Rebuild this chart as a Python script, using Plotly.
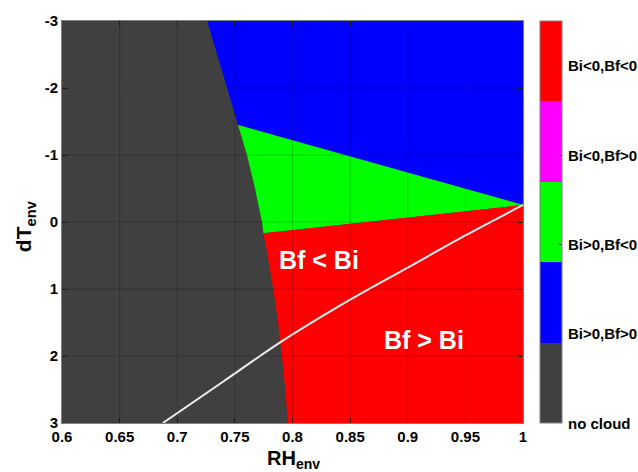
import plotly.graph_objects as go

# Regime boundary between "no cloud" and cloudy states: RH_env at given dT_env
boundary_dT = [-3.0, -2.5, -2.0, -1.448, -1.0, -0.5, 0.0, 0.169, 0.5, 1.0,
               1.5, 2.0, 2.5, 3.0]
boundary_rh = [0.726, 0.7345, 0.743, 0.7528, 0.7605, 0.7675, 0.7735, 0.7748,
               0.7785, 0.7833, 0.7875, 0.7908, 0.7938, 0.796]

# Point where the blue/green and green/red borders meet on the RH = 1 edge
apex_rh, apex_dT = 1.0, -0.254

# Bf = Bi line
eq_rh = [0.6875, 0.74, 0.789, 0.85, 0.90, 0.95, 1.0]
eq_dT = [3.0, 2.38, 1.80, 1.16, 0.68, 0.20, -0.254]

# Region labels (category codes 0..4) and colours
class_codes = [0, 1, 2, 3, 4]
class_names = ["no cloud", "Bi>0,Bf>0", "Bi>0,Bf<0", "Bi<0,Bf>0", "Bi<0,Bf<0"]
class_colors = ["#404040", "#0000ff", "#00ff00", "#ff00ff", "#ff0000"]
cbar_max = 4.5

x_ticks = [0.6, 0.65, 0.7, 0.75, 0.8, 0.85, 0.9, 0.95, 1.0]
x_ticktext = ["0.6", "0.65", "0.7", "0.75", "0.8", "0.85", "0.9", "0.95", "1"]
y_ticks = [-3, -2, -1, 0, 1, 2, 3]
y_ticktext = ["-3", "-2", "-1", "0", "1", "2", "3"]

FONT = "Arial, Liberation Sans, sans-serif"
XMIN, XMAX, YMIN, YMAX = 0.6, 1.0, -3.0, 3.0

# indices into the boundary arrays
i_green_top = boundary_dT.index(-1.448)
i_green_bot = boundary_dT.index(0.169)

fig = go.Figure()


def region(xs, ys, color):
    fig.add_trace(go.Scatter(x=xs, y=ys, fill="toself", fillcolor=color,
                             mode="lines", line=dict(width=0, color=color),
                             hoverinfo="skip", showlegend=False))


# no cloud
region([XMIN] + boundary_rh + [XMIN],
       [YMIN] + boundary_dT + [YMAX], class_colors[0])
# Bi>0, Bf>0
region(boundary_rh[:i_green_top + 1] + [apex_rh, XMAX],
       boundary_dT[:i_green_top + 1] + [apex_dT, YMIN], class_colors[1])
# Bi>0, Bf<0
region(boundary_rh[i_green_top:i_green_bot + 1] + [apex_rh],
       boundary_dT[i_green_top:i_green_bot + 1] + [apex_dT], class_colors[2])
# Bi<0, Bf<0
region(boundary_rh[i_green_bot:] + [XMAX, apex_rh],
       boundary_dT[i_green_bot:] + [YMAX, apex_dT], class_colors[4])

# Bf = Bi line
fig.add_trace(go.Scatter(x=eq_rh, y=eq_dT, mode="lines",
                         line=dict(color="#eeeeee", width=2, shape="spline",
                                   smoothing=0.8),
                         hoverinfo="skip", showlegend=False))

# discrete colour bar (labels added as annotations beside it)
n = len(class_colors)
cscale = []
for k, c in enumerate(class_colors):
    cscale.append([k / n, c])
    cscale.append([(k + 1) / n, c])

fig.add_trace(go.Scatter(
    x=[XMIN], y=[YMIN], mode="markers", hoverinfo="skip", showlegend=False,
    marker=dict(size=0.1, opacity=0, color=[0], colorscale=cscale,
                cmin=0, cmax=cbar_max, showscale=True,
                colorbar=dict(
                    x=1.0369, xanchor="left", xpad=0, y=0.5, yanchor="middle",
                    ypad=0, len=1, lenmode="fraction", thickness=22,
                    outlinewidth=1, outlinecolor="#808080",
                    tickmode="array", tickvals=class_codes,
                    showticklabels=False,
                    ticks="inside", ticklen=3, tickcolor="#222222",
                ))))

# faint grid drawn over the filled regions
shapes = []
for xv in x_ticks[1:-1]:
    shapes.append(dict(type="line", xref="x", yref="paper", x0=xv, x1=xv,
                       y0=0, y1=1, layer="above",
                       line=dict(color="rgba(0,0,0,0.18)", width=1)))
for yv in y_ticks[1:-1]:
    shapes.append(dict(type="line", xref="paper", yref="y", x0=0, x1=1,
                       y0=yv, y1=yv, layer="above",
                       line=dict(color="rgba(0,0,0,0.18)", width=1)))

annotations = [
    dict(x=0.8228, y=0.567, text="<b>Bf &lt; Bi</b>", showarrow=False,
         font=dict(family=FONT, size=25, color="white")),
    dict(x=0.9141, y=1.76, text="<b>Bf &gt; Bi</b>", showarrow=False,
         font=dict(family=FONT, size=25, color="white")),
    dict(xref="paper", yref="paper", x=0.502, xanchor="center",
         y=-0.091, yanchor="middle",
         text="<b>RH<sub>env</sub></b>", showarrow=False,
         font=dict(family=FONT, size=20, color="black")),
    dict(xref="paper", yref="paper", x=-0.08, xanchor="center",
         y=0.49, yanchor="middle", textangle=-90,
         text="<b>dT<sub>env</sub></b>", showarrow=False,
         font=dict(family=FONT, size=21, color="black")),
]
for code, name in zip(class_codes, class_names):
    annotations.append(dict(xref="paper", yref="paper", x=1.0933, xanchor="left",
                            y=code / cbar_max, yanchor="middle", text=f"<b>{name}</b>",
                            showarrow=False,
                            font=dict(family=FONT, size=15, color="black")))

axis_common = dict(showgrid=False, zeroline=False, ticks="inside", ticklen=5,
                   tickcolor="#222222", showline=True, linecolor="#808080",
                   linewidth=1, mirror="ticks", automargin=False,
                   tickfont=dict(family=FONT, size=15, color="black",
                                 weight="bold"))

fig.update_layout(
    width=638, height=472,
    margin=dict(l=62, r=115, t=21, b=49),
    paper_bgcolor="white", plot_bgcolor="#404040",
    shapes=shapes, annotations=annotations,
    xaxis=dict(range=[XMIN, XMAX], tickvals=x_ticks, ticktext=x_ticktext,
               **axis_common),
    yaxis=dict(range=[YMAX, YMIN], tickvals=y_ticks, ticktext=y_ticktext,
               **axis_common),
)

fig.write_html("out.html")
